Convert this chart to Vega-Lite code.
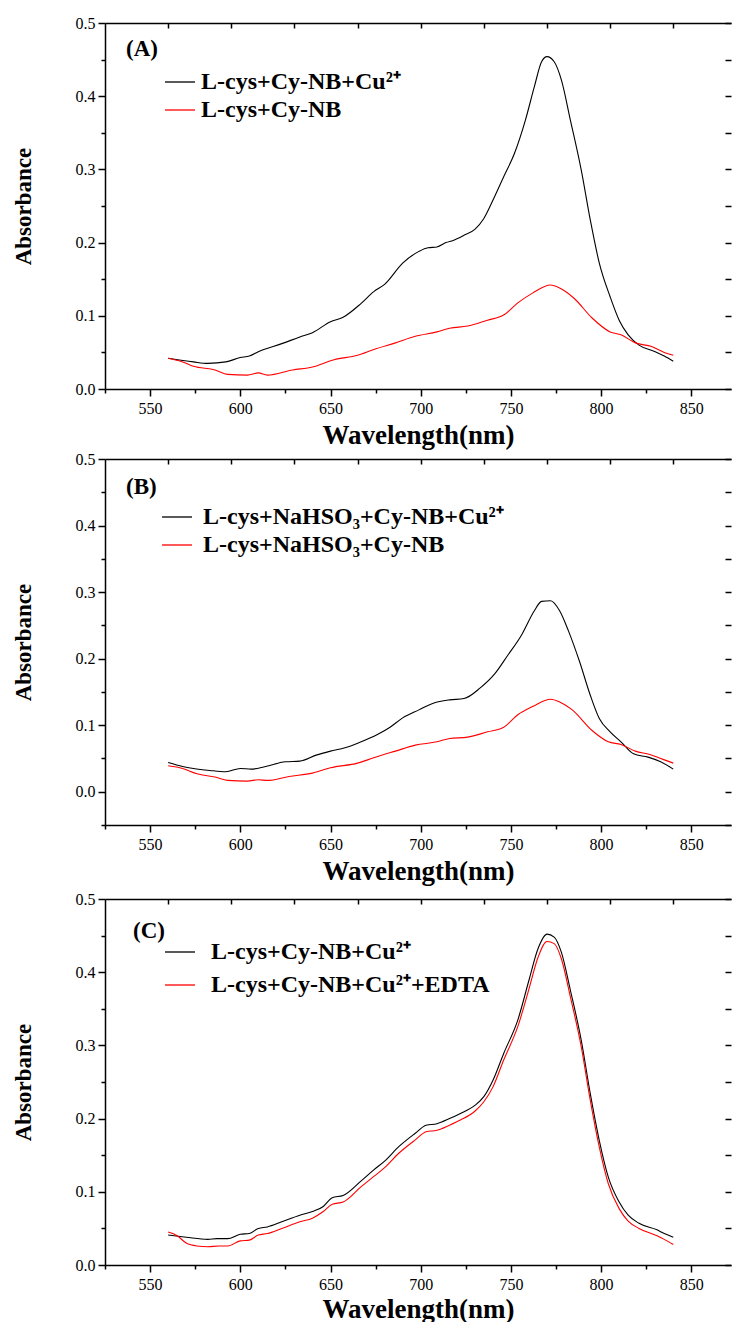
{
  "$schema": "https://vega.github.io/schema/vega-lite/v6.json",
  "background": "white",
  "padding": {"left": 12, "top": 15, "right": 0, "bottom": 0},
  "spacing": 70,
  "bounds": "flush",
  "resolve": {"scale": {"color": "independent"}, "legend": {"color": "independent"}},
  "config": {
    "view": {"stroke": null},
    "style": {"guide-label": {"font": "Liberation Serif"}, "guide-title": {"font": "Liberation Serif"}},
    "axis": {"grid": false, "domainColor": "black", "tickColor": "black", "labelColor": "black", "titleColor": "black", "domainWidth": 1.5, "tickWidth": 1.5, "labelFont": "Liberation Serif", "labelFontSize": 16, "titleFont": "Liberation Serif", "titleFontWeight": "bold"},
    "legend": {"orient": "none", "title": null, "symbolType": "stroke", "symbolSize": 900, "symbolStrokeWidth": 1.3, "labelFont": "Liberation Serif", "labelFontSize": 24, "labelFontWeight": "bold", "labelColor": "black", "labelLimit": 0},
    "title": {"font": "Liberation Serif", "fontSize": 23, "fontWeight": "bold", "color": "black", "anchor": "start", "frame": "group", "offset": 0, "baseline": "alphabetic"}
  },
  "datasets": {
    "A": [
      {"s":"L-cys+Cy-NB+Cu²⁺","x":560,"y":0.042},{"s":"L-cys+Cy-NB+Cu²⁺","x":574,"y":0.037},{"s":"L-cys+Cy-NB+Cu²⁺","x":582,"y":0.035},{"s":"L-cys+Cy-NB+Cu²⁺","x":592,"y":0.037},{"s":"L-cys+Cy-NB+Cu²⁺","x":600,"y":0.043},{"s":"L-cys+Cy-NB+Cu²⁺","x":605,"y":0.045},{"s":"L-cys+Cy-NB+Cu²⁺","x":610,"y":0.051},{"s":"L-cys+Cy-NB+Cu²⁺","x":623,"y":0.062},{"s":"L-cys+Cy-NB+Cu²⁺","x":633,"y":0.071},{"s":"L-cys+Cy-NB+Cu²⁺","x":640,"y":0.077},{"s":"L-cys+Cy-NB+Cu²⁺","x":650,"y":0.092},{"s":"L-cys+Cy-NB+Cu²⁺","x":657,"y":0.098},{"s":"L-cys+Cy-NB+Cu²⁺","x":667,"y":0.117},{"s":"L-cys+Cy-NB+Cu²⁺","x":674,"y":0.133},{"s":"L-cys+Cy-NB+Cu²⁺","x":680,"y":0.143},{"s":"L-cys+Cy-NB+Cu²⁺","x":690,"y":0.172},{"s":"L-cys+Cy-NB+Cu²⁺","x":699,"y":0.188},{"s":"L-cys+Cy-NB+Cu²⁺","x":704,"y":0.193},{"s":"L-cys+Cy-NB+Cu²⁺","x":709,"y":0.194},{"s":"L-cys+Cy-NB+Cu²⁺","x":714,"y":0.2},{"s":"L-cys+Cy-NB+Cu²⁺","x":718,"y":0.203},{"s":"L-cys+Cy-NB+Cu²⁺","x":724,"y":0.21},{"s":"L-cys+Cy-NB+Cu²⁺","x":730,"y":0.218},{"s":"L-cys+Cy-NB+Cu²⁺","x":735,"y":0.233},{"s":"L-cys+Cy-NB+Cu²⁺","x":741,"y":0.263},{"s":"L-cys+Cy-NB+Cu²⁺","x":746,"y":0.29},{"s":"L-cys+Cy-NB+Cu²⁺","x":752,"y":0.322},{"s":"L-cys+Cy-NB+Cu²⁺","x":758,"y":0.367},{"s":"L-cys+Cy-NB+Cu²⁺","x":763,"y":0.413},{"s":"L-cys+Cy-NB+Cu²⁺","x":767,"y":0.447},{"s":"L-cys+Cy-NB+Cu²⁺","x":770,"y":0.454},{"s":"L-cys+Cy-NB+Cu²⁺","x":774,"y":0.447},{"s":"L-cys+Cy-NB+Cu²⁺","x":778,"y":0.422},{"s":"L-cys+Cy-NB+Cu²⁺","x":783,"y":0.367},{"s":"L-cys+Cy-NB+Cu²⁺","x":789,"y":0.299},{"s":"L-cys+Cy-NB+Cu²⁺","x":794,"y":0.231},{"s":"L-cys+Cy-NB+Cu²⁺","x":799,"y":0.172},{"s":"L-cys+Cy-NB+Cu²⁺","x":805,"y":0.126},{"s":"L-cys+Cy-NB+Cu²⁺","x":810,"y":0.094},{"s":"L-cys+Cy-NB+Cu²⁺","x":815,"y":0.074},{"s":"L-cys+Cy-NB+Cu²⁺","x":821,"y":0.06},{"s":"L-cys+Cy-NB+Cu²⁺","x":830,"y":0.051},{"s":"L-cys+Cy-NB+Cu²⁺","x":835,"y":0.045},{"s":"L-cys+Cy-NB+Cu²⁺","x":840,"y":0.038},
      {"s":"L-cys+Cy-NB","x":560,"y":0.042},{"s":"L-cys+Cy-NB","x":568,"y":0.037},{"s":"L-cys+Cy-NB","x":574,"y":0.031},{"s":"L-cys+Cy-NB","x":586,"y":0.026},{"s":"L-cys+Cy-NB","x":593,"y":0.02},{"s":"L-cys+Cy-NB","x":604,"y":0.019},{"s":"L-cys+Cy-NB","x":610,"y":0.022},{"s":"L-cys+Cy-NB","x":615,"y":0.019},{"s":"L-cys+Cy-NB","x":629,"y":0.026},{"s":"L-cys+Cy-NB","x":640,"y":0.03},{"s":"L-cys+Cy-NB","x":652,"y":0.04},{"s":"L-cys+Cy-NB","x":665,"y":0.046},{"s":"L-cys+Cy-NB","x":674,"y":0.054},{"s":"L-cys+Cy-NB","x":686,"y":0.063},{"s":"L-cys+Cy-NB","x":697,"y":0.072},{"s":"L-cys+Cy-NB","x":709,"y":0.078},{"s":"L-cys+Cy-NB","x":716,"y":0.083},{"s":"L-cys+Cy-NB","x":726,"y":0.086},{"s":"L-cys+Cy-NB","x":737,"y":0.094},{"s":"L-cys+Cy-NB","x":746,"y":0.101},{"s":"L-cys+Cy-NB","x":754,"y":0.118},{"s":"L-cys+Cy-NB","x":762,"y":0.131},{"s":"L-cys+Cy-NB","x":772,"y":0.142},{"s":"L-cys+Cy-NB","x":777,"y":0.138},{"s":"L-cys+Cy-NB","x":785,"y":0.124},{"s":"L-cys+Cy-NB","x":795,"y":0.097},{"s":"L-cys+Cy-NB","x":805,"y":0.078},{"s":"L-cys+Cy-NB","x":811,"y":0.074},{"s":"L-cys+Cy-NB","x":819,"y":0.063},{"s":"L-cys+Cy-NB","x":828,"y":0.058},{"s":"L-cys+Cy-NB","x":835,"y":0.05},{"s":"L-cys+Cy-NB","x":840,"y":0.046}
    ],
    "B": [
      {"s":"L-cys+NaHSO₃+Cy-NB+Cu²⁺","x":560,"y":0.044},{"s":"L-cys+NaHSO₃+Cy-NB+Cu²⁺","x":568,"y":0.038},{"s":"L-cys+NaHSO₃+Cy-NB+Cu²⁺","x":574,"y":0.035},{"s":"L-cys+NaHSO₃+Cy-NB+Cu²⁺","x":583,"y":0.032},{"s":"L-cys+NaHSO₃+Cy-NB+Cu²⁺","x":592,"y":0.03},{"s":"L-cys+NaHSO₃+Cy-NB+Cu²⁺","x":600,"y":0.035},{"s":"L-cys+NaHSO₃+Cy-NB+Cu²⁺","x":606,"y":0.034},{"s":"L-cys+NaHSO₃+Cy-NB+Cu²⁺","x":614,"y":0.038},{"s":"L-cys+NaHSO₃+Cy-NB+Cu²⁺","x":625,"y":0.045},{"s":"L-cys+NaHSO₃+Cy-NB+Cu²⁺","x":633,"y":0.046},{"s":"L-cys+NaHSO₃+Cy-NB+Cu²⁺","x":642,"y":0.055},{"s":"L-cys+NaHSO₃+Cy-NB+Cu²⁺","x":650,"y":0.061},{"s":"L-cys+NaHSO₃+Cy-NB+Cu²⁺","x":658,"y":0.066},{"s":"L-cys+NaHSO₃+Cy-NB+Cu²⁺","x":666,"y":0.074},{"s":"L-cys+NaHSO₃+Cy-NB+Cu²⁺","x":676,"y":0.086},{"s":"L-cys+NaHSO₃+Cy-NB+Cu²⁺","x":683,"y":0.097},{"s":"L-cys+NaHSO₃+Cy-NB+Cu²⁺","x":690,"y":0.111},{"s":"L-cys+NaHSO₃+Cy-NB+Cu²⁺","x":699,"y":0.123},{"s":"L-cys+NaHSO₃+Cy-NB+Cu²⁺","x":707,"y":0.133},{"s":"L-cys+NaHSO₃+Cy-NB+Cu²⁺","x":716,"y":0.138},{"s":"L-cys+NaHSO₃+Cy-NB+Cu²⁺","x":724,"y":0.14},{"s":"L-cys+NaHSO₃+Cy-NB+Cu²⁺","x":733,"y":0.156},{"s":"L-cys+NaHSO₃+Cy-NB+Cu²⁺","x":741,"y":0.177},{"s":"L-cys+NaHSO₃+Cy-NB+Cu²⁺","x":748,"y":0.204},{"s":"L-cys+NaHSO₃+Cy-NB+Cu²⁺","x":756,"y":0.236},{"s":"L-cys+NaHSO₃+Cy-NB+Cu²⁺","x":763,"y":0.272},{"s":"L-cys+NaHSO₃+Cy-NB+Cu²⁺","x":767,"y":0.286},{"s":"L-cys+NaHSO₃+Cy-NB+Cu²⁺","x":772,"y":0.287},{"s":"L-cys+NaHSO₃+Cy-NB+Cu²⁺","x":777,"y":0.272},{"s":"L-cys+NaHSO₃+Cy-NB+Cu²⁺","x":782,"y":0.241},{"s":"L-cys+NaHSO₃+Cy-NB+Cu²⁺","x":788,"y":0.196},{"s":"L-cys+NaHSO₃+Cy-NB+Cu²⁺","x":794,"y":0.145},{"s":"L-cys+NaHSO₃+Cy-NB+Cu²⁺","x":799,"y":0.11},{"s":"L-cys+NaHSO₃+Cy-NB+Cu²⁺","x":805,"y":0.09},{"s":"L-cys+NaHSO₃+Cy-NB+Cu²⁺","x":811,"y":0.075},{"s":"L-cys+NaHSO₃+Cy-NB+Cu²⁺","x":818,"y":0.057},{"s":"L-cys+NaHSO₃+Cy-NB+Cu²⁺","x":826,"y":0.052},{"s":"L-cys+NaHSO₃+Cy-NB+Cu²⁺","x":833,"y":0.045},{"s":"L-cys+NaHSO₃+Cy-NB+Cu²⁺","x":840,"y":0.034},
      {"s":"L-cys+NaHSO₃+Cy-NB","x":560,"y":0.039},{"s":"L-cys+NaHSO₃+Cy-NB","x":568,"y":0.035},{"s":"L-cys+NaHSO₃+Cy-NB","x":576,"y":0.027},{"s":"L-cys+NaHSO₃+Cy-NB","x":586,"y":0.022},{"s":"L-cys+NaHSO₃+Cy-NB","x":593,"y":0.017},{"s":"L-cys+NaHSO₃+Cy-NB","x":604,"y":0.016},{"s":"L-cys+NaHSO₃+Cy-NB","x":610,"y":0.018},{"s":"L-cys+NaHSO₃+Cy-NB","x":615,"y":0.017},{"s":"L-cys+NaHSO₃+Cy-NB","x":627,"y":0.023},{"s":"L-cys+NaHSO₃+Cy-NB","x":640,"y":0.028},{"s":"L-cys+NaHSO₃+Cy-NB","x":650,"y":0.036},{"s":"L-cys+NaHSO₃+Cy-NB","x":665,"y":0.043},{"s":"L-cys+NaHSO₃+Cy-NB","x":674,"y":0.051},{"s":"L-cys+NaHSO₃+Cy-NB","x":686,"y":0.061},{"s":"L-cys+NaHSO₃+Cy-NB","x":697,"y":0.07},{"s":"L-cys+NaHSO₃+Cy-NB","x":709,"y":0.075},{"s":"L-cys+NaHSO₃+Cy-NB","x":716,"y":0.08},{"s":"L-cys+NaHSO₃+Cy-NB","x":726,"y":0.082},{"s":"L-cys+NaHSO₃+Cy-NB","x":737,"y":0.09},{"s":"L-cys+NaHSO₃+Cy-NB","x":746,"y":0.097},{"s":"L-cys+NaHSO₃+Cy-NB","x":754,"y":0.116},{"s":"L-cys+NaHSO₃+Cy-NB","x":762,"y":0.128},{"s":"L-cys+NaHSO₃+Cy-NB","x":772,"y":0.139},{"s":"L-cys+NaHSO₃+Cy-NB","x":777,"y":0.135},{"s":"L-cys+NaHSO₃+Cy-NB","x":784,"y":0.123},{"s":"L-cys+NaHSO₃+Cy-NB","x":795,"y":0.092},{"s":"L-cys+NaHSO₃+Cy-NB","x":804,"y":0.075},{"s":"L-cys+NaHSO₃+Cy-NB","x":811,"y":0.071},{"s":"L-cys+NaHSO₃+Cy-NB","x":819,"y":0.061},{"s":"L-cys+NaHSO₃+Cy-NB","x":827,"y":0.056},{"s":"L-cys+NaHSO₃+Cy-NB","x":834,"y":0.049},{"s":"L-cys+NaHSO₃+Cy-NB","x":840,"y":0.043}
    ],
    "C": [
      {"s":"L-cys+Cy-NB+Cu²⁺","x":560,"y":0.041},{"s":"L-cys+Cy-NB+Cu²⁺","x":570,"y":0.038},{"s":"L-cys+Cy-NB+Cu²⁺","x":582,"y":0.035},{"s":"L-cys+Cy-NB+Cu²⁺","x":587,"y":0.036},{"s":"L-cys+Cy-NB+Cu²⁺","x":593,"y":0.036},{"s":"L-cys+Cy-NB+Cu²⁺","x":600,"y":0.042},{"s":"L-cys+Cy-NB+Cu²⁺","x":605,"y":0.043},{"s":"L-cys+Cy-NB+Cu²⁺","x":610,"y":0.05},{"s":"L-cys+Cy-NB+Cu²⁺","x":615,"y":0.052},{"s":"L-cys+Cy-NB+Cu²⁺","x":623,"y":0.059},{"s":"L-cys+Cy-NB+Cu²⁺","x":633,"y":0.068},{"s":"L-cys+Cy-NB+Cu²⁺","x":640,"y":0.073},{"s":"L-cys+Cy-NB+Cu²⁺","x":646,"y":0.08},{"s":"L-cys+Cy-NB+Cu²⁺","x":651,"y":0.092},{"s":"L-cys+Cy-NB+Cu²⁺","x":657,"y":0.095},{"s":"L-cys+Cy-NB+Cu²⁺","x":667,"y":0.115},{"s":"L-cys+Cy-NB+Cu²⁺","x":674,"y":0.13},{"s":"L-cys+Cy-NB+Cu²⁺","x":680,"y":0.142},{"s":"L-cys+Cy-NB+Cu²⁺","x":688,"y":0.162},{"s":"L-cys+Cy-NB+Cu²⁺","x":697,"y":0.18},{"s":"L-cys+Cy-NB+Cu²⁺","x":703,"y":0.191},{"s":"L-cys+Cy-NB+Cu²⁺","x":709,"y":0.193},{"s":"L-cys+Cy-NB+Cu²⁺","x":716,"y":0.2},{"s":"L-cys+Cy-NB+Cu²⁺","x":722,"y":0.207},{"s":"L-cys+Cy-NB+Cu²⁺","x":730,"y":0.218},{"s":"L-cys+Cy-NB+Cu²⁺","x":735,"y":0.23},{"s":"L-cys+Cy-NB+Cu²⁺","x":740,"y":0.252},{"s":"L-cys+Cy-NB+Cu²⁺","x":746,"y":0.289},{"s":"L-cys+Cy-NB+Cu²⁺","x":754,"y":0.336},{"s":"L-cys+Cy-NB+Cu²⁺","x":760,"y":0.389},{"s":"L-cys+Cy-NB+Cu²⁺","x":765,"y":0.432},{"s":"L-cys+Cy-NB+Cu²⁺","x":770,"y":0.452},{"s":"L-cys+Cy-NB+Cu²⁺","x":774,"y":0.448},{"s":"L-cys+Cy-NB+Cu²⁺","x":778,"y":0.427},{"s":"L-cys+Cy-NB+Cu²⁺","x":783,"y":0.375},{"s":"L-cys+Cy-NB+Cu²⁺","x":789,"y":0.307},{"s":"L-cys+Cy-NB+Cu²⁺","x":794,"y":0.234},{"s":"L-cys+Cy-NB+Cu²⁺","x":799,"y":0.17},{"s":"L-cys+Cy-NB+Cu²⁺","x":804,"y":0.12},{"s":"L-cys+Cy-NB+Cu²⁺","x":810,"y":0.086},{"s":"L-cys+Cy-NB+Cu²⁺","x":815,"y":0.068},{"s":"L-cys+Cy-NB+Cu²⁺","x":821,"y":0.057},{"s":"L-cys+Cy-NB+Cu²⁺","x":831,"y":0.048},{"s":"L-cys+Cy-NB+Cu²⁺","x":835,"y":0.043},{"s":"L-cys+Cy-NB+Cu²⁺","x":840,"y":0.038},
      {"s":"L-cys+Cy-NB+Cu²⁺+EDTA","x":560,"y":0.045},{"s":"L-cys+Cy-NB+Cu²⁺+EDTA","x":565,"y":0.04},{"s":"L-cys+Cy-NB+Cu²⁺+EDTA","x":570,"y":0.03},{"s":"L-cys+Cy-NB+Cu²⁺+EDTA","x":576,"y":0.026},{"s":"L-cys+Cy-NB+Cu²⁺+EDTA","x":582,"y":0.025},{"s":"L-cys+Cy-NB+Cu²⁺+EDTA","x":588,"y":0.026},{"s":"L-cys+Cy-NB+Cu²⁺+EDTA","x":593,"y":0.026},{"s":"L-cys+Cy-NB+Cu²⁺+EDTA","x":600,"y":0.033},{"s":"L-cys+Cy-NB+Cu²⁺+EDTA","x":605,"y":0.034},{"s":"L-cys+Cy-NB+Cu²⁺+EDTA","x":610,"y":0.041},{"s":"L-cys+Cy-NB+Cu²⁺+EDTA","x":615,"y":0.043},{"s":"L-cys+Cy-NB+Cu²⁺+EDTA","x":623,"y":0.05},{"s":"L-cys+Cy-NB+Cu²⁺+EDTA","x":633,"y":0.059},{"s":"L-cys+Cy-NB+Cu²⁺+EDTA","x":640,"y":0.064},{"s":"L-cys+Cy-NB+Cu²⁺+EDTA","x":646,"y":0.073},{"s":"L-cys+Cy-NB+Cu²⁺+EDTA","x":651,"y":0.083},{"s":"L-cys+Cy-NB+Cu²⁺+EDTA","x":657,"y":0.086},{"s":"L-cys+Cy-NB+Cu²⁺+EDTA","x":667,"y":0.107},{"s":"L-cys+Cy-NB+Cu²⁺+EDTA","x":674,"y":0.121},{"s":"L-cys+Cy-NB+Cu²⁺+EDTA","x":680,"y":0.133},{"s":"L-cys+Cy-NB+Cu²⁺+EDTA","x":688,"y":0.153},{"s":"L-cys+Cy-NB+Cu²⁺+EDTA","x":697,"y":0.171},{"s":"L-cys+Cy-NB+Cu²⁺+EDTA","x":703,"y":0.182},{"s":"L-cys+Cy-NB+Cu²⁺+EDTA","x":709,"y":0.184},{"s":"L-cys+Cy-NB+Cu²⁺+EDTA","x":716,"y":0.191},{"s":"L-cys+Cy-NB+Cu²⁺+EDTA","x":722,"y":0.198},{"s":"L-cys+Cy-NB+Cu²⁺+EDTA","x":730,"y":0.21},{"s":"L-cys+Cy-NB+Cu²⁺+EDTA","x":735,"y":0.223},{"s":"L-cys+Cy-NB+Cu²⁺+EDTA","x":740,"y":0.243},{"s":"L-cys+Cy-NB+Cu²⁺+EDTA","x":746,"y":0.28},{"s":"L-cys+Cy-NB+Cu²⁺+EDTA","x":754,"y":0.327},{"s":"L-cys+Cy-NB+Cu²⁺+EDTA","x":760,"y":0.377},{"s":"L-cys+Cy-NB+Cu²⁺+EDTA","x":765,"y":0.42},{"s":"L-cys+Cy-NB+Cu²⁺+EDTA","x":770,"y":0.442},{"s":"L-cys+Cy-NB+Cu²⁺+EDTA","x":774,"y":0.439},{"s":"L-cys+Cy-NB+Cu²⁺+EDTA","x":778,"y":0.418},{"s":"L-cys+Cy-NB+Cu²⁺+EDTA","x":783,"y":0.366},{"s":"L-cys+Cy-NB+Cu²⁺+EDTA","x":789,"y":0.298},{"s":"L-cys+Cy-NB+Cu²⁺+EDTA","x":794,"y":0.225},{"s":"L-cys+Cy-NB+Cu²⁺+EDTA","x":799,"y":0.161},{"s":"L-cys+Cy-NB+Cu²⁺+EDTA","x":804,"y":0.111},{"s":"L-cys+Cy-NB+Cu²⁺+EDTA","x":810,"y":0.077},{"s":"L-cys+Cy-NB+Cu²⁺+EDTA","x":815,"y":0.06},{"s":"L-cys+Cy-NB+Cu²⁺+EDTA","x":821,"y":0.05},{"s":"L-cys+Cy-NB+Cu²⁺+EDTA","x":831,"y":0.04},{"s":"L-cys+Cy-NB+Cu²⁺+EDTA","x":835,"y":0.035},{"s":"L-cys+Cy-NB+Cu²⁺+EDTA","x":840,"y":0.028}
    ]
  },
  "vconcat": [
    {
      "width": 626, "height": 366,
      "data": {"name": "A"},
      "title": {"text": "(A)", "dx": 21, "dy": 50},
      "layer": [
        {"mark": {"type": "line", "strokeWidth": 1.1, "interpolate": "monotone"},
         "encoding": {
           "x": {"field": "x", "type": "quantitative", "scale": {"domain": [525, 872], "nice": false, "zero": false},
                 "axis": {"orient": "bottom", "values": [550,600,650,700,750,800,850], "tickSize": 7, "labelPadding": 4, "labelFont": "Liberation Serif", "labelFontSize": 16, "title": "Wavelength(nm)", "titleFont": "Liberation Serif", "titleFontSize": 27, "titlePadding": 6}},
           "y": {"field": "y", "type": "quantitative", "scale": {"domain": [0, 0.5], "nice": false, "zero": false},
                 "axis": {"orient": "left", "values": [0,0.1,0.2,0.3,0.4,0.5], "format": ".1f", "tickSize": 7, "labelPadding": 3, "labelFont": "Liberation Serif", "labelFontSize": 16, "title": "Absorbance", "titleFont": "Liberation Serif", "titleFontSize": 23, "titlePadding": 40}},
           "color": {"field": "s", "type": "nominal", "sort": null, "scale": {"domain": ["L-cys+Cy-NB+Cu²⁺", "L-cys+Cy-NB"], "range": ["#000000", "#ff0000"]},
                     "legend": {"legendX": 59, "legendY": 43, "labelOffset": 5, "rowPadding": -5}}
         }},
        {"mark": {"type": "line", "strokeOpacity": 0},
         "encoding": {
           "x": {"field": "x", "type": "quantitative", "scale": {"domain": [525, 872], "nice": false, "zero": false},
                 "axis": {"orient": "bottom", "values": [525,575,625,675,725,775,825], "tickSize": 4, "labels": false, "title": null, "domain": false}},
           "y": {"field": "y", "type": "quantitative", "scale": {"domain": [0, 0.5], "nice": false, "zero": false},
                 "axis": {"orient": "left", "values": [0.05,0.15,0.25,0.35,0.45], "tickSize": 4, "labels": false, "title": null, "domain": false}},
           "detail": {"field": "s"}
         }},
        {"mark": {"type": "line", "strokeOpacity": 0},
         "encoding": {
           "x": {"field": "x", "type": "quantitative", "scale": {"domain": [525, 872], "nice": false, "zero": false},
                 "axis": {"orient": "top", "values": [560,595,630,665,700,735,770,805,840], "tickSize": -5, "labels": false, "title": null}},
           "y": {"field": "y", "type": "quantitative", "scale": {"domain": [0, 0.5], "nice": false, "zero": false},
                 "axis": {"orient": "right", "values": [0,0.05,0.1,0.15,0.2,0.25,0.3,0.35,0.4,0.45,0.5], "tickSize": -6, "labels": false, "title": null, "domain": false}},
           "detail": {"field": "s"}
         }}
      ],
      "resolve": {"axis": {"x": "independent", "y": "independent"}}
    },
    {
      "spacing": 74,
      "bounds": "flush",
      "resolve": {"scale": {"color": "independent"}, "legend": {"color": "independent"}},
      "vconcat": [
        {
          "width": 626, "height": 366,
          "data": {"name": "B"},
          "title": {"text": "(B)", "dx": 21, "dy": 52},
          "layer": [
            {"mark": {"type": "line", "strokeWidth": 1.1, "interpolate": "monotone"},
             "encoding": {
               "x": {"field": "x", "type": "quantitative", "scale": {"domain": [525, 872], "nice": false, "zero": false},
                     "axis": {"orient": "bottom", "values": [550,600,650,700,750,800,850], "tickSize": 7, "labelPadding": 4, "labelFont": "Liberation Serif", "labelFontSize": 16, "title": "Wavelength(nm)", "titleFont": "Liberation Serif", "titleFontSize": 27, "titlePadding": 6}},
               "y": {"field": "y", "type": "quantitative", "scale": {"domain": [-0.05, 0.5], "nice": false, "zero": false},
                     "axis": {"orient": "left", "values": [0,0.1,0.2,0.3,0.4,0.5], "format": ".1f", "tickSize": 7, "labelPadding": 3, "labelFont": "Liberation Serif", "labelFontSize": 16, "title": "Absorbance", "titleFont": "Liberation Serif", "titleFontSize": 23, "titlePadding": 40}},
               "color": {"field": "s", "type": "nominal", "sort": null, "scale": {"domain": ["L-cys+NaHSO₃+Cy-NB+Cu²⁺", "L-cys+NaHSO₃+Cy-NB"], "range": ["#000000", "#ff0000"]},
                         "legend": {"legendX": 56, "legendY": 42, "labelOffset": 10, "rowPadding": -7}}
             }},
            {"mark": {"type": "line", "strokeOpacity": 0},
             "encoding": {
               "x": {"field": "x", "type": "quantitative", "scale": {"domain": [525, 872], "nice": false, "zero": false},
                     "axis": {"orient": "bottom", "values": [525,575,625,675,725,775,825], "tickSize": 4, "labels": false, "title": null, "domain": false}},
               "y": {"field": "y", "type": "quantitative", "scale": {"domain": [-0.05, 0.5], "nice": false, "zero": false},
                     "axis": {"orient": "left", "values": [-0.05,0.05,0.15,0.25,0.35,0.45], "tickSize": 4, "labels": false, "title": null, "domain": false}},
               "detail": {"field": "s"}
             }},
            {"mark": {"type": "line", "strokeOpacity": 0},
             "encoding": {
               "x": {"field": "x", "type": "quantitative", "scale": {"domain": [525, 872], "nice": false, "zero": false},
                     "axis": {"orient": "top", "values": [560,595,630,665,700,735,770,805,840], "tickSize": -5, "labels": false, "title": null}},
               "y": {"field": "y", "type": "quantitative", "scale": {"domain": [-0.05, 0.5], "nice": false, "zero": false},
                     "axis": {"orient": "right", "values": [-0.05,0,0.05,0.1,0.15,0.2,0.25,0.3,0.35,0.4,0.45,0.5], "tickSize": -6, "labels": false, "title": null, "domain": false}},
               "detail": {"field": "s"}
             }}
          ],
          "resolve": {"axis": {"x": "independent", "y": "independent"}}
        },
        {
          "width": 626, "height": 366,
          "data": {"name": "C"},
          "title": {"text": "(C)", "dx": 28, "dy": 56},
          "layer": [
            {"mark": {"type": "line", "strokeWidth": 1.1, "interpolate": "monotone"},
             "encoding": {
               "x": {"field": "x", "type": "quantitative", "scale": {"domain": [525, 872], "nice": false, "zero": false},
                     "axis": {"orient": "bottom", "values": [550,600,650,700,750,800,850], "tickSize": 7, "labelPadding": 4, "labelFont": "Liberation Serif", "labelFontSize": 16, "title": "Wavelength(nm)", "titleFont": "Liberation Serif", "titleFontSize": 27, "titlePadding": 4}},
               "y": {"field": "y", "type": "quantitative", "scale": {"domain": [0, 0.5], "nice": false, "zero": false},
                     "axis": {"orient": "left", "values": [0,0.1,0.2,0.3,0.4,0.5], "format": ".1f", "tickSize": 7, "labelPadding": 3, "labelFont": "Liberation Serif", "labelFontSize": 16, "title": "Absorbance", "titleFont": "Liberation Serif", "titleFontSize": 23, "titlePadding": 40}},
               "color": {"field": "s", "type": "nominal", "sort": null, "scale": {"domain": ["L-cys+Cy-NB+Cu²⁺", "L-cys+Cy-NB+Cu²⁺+EDTA"], "range": ["#000000", "#ff0000"]},
                         "legend": {"legendX": 59, "legendY": 37, "labelOffset": 15, "rowPadding": 5}}
             }},
            {"mark": {"type": "line", "strokeOpacity": 0},
             "encoding": {
               "x": {"field": "x", "type": "quantitative", "scale": {"domain": [525, 872], "nice": false, "zero": false},
                     "axis": {"orient": "bottom", "values": [525,575,625,675,725,775,825], "tickSize": 4, "labels": false, "title": null, "domain": false}},
               "y": {"field": "y", "type": "quantitative", "scale": {"domain": [0, 0.5], "nice": false, "zero": false},
                     "axis": {"orient": "left", "values": [0.05,0.15,0.25,0.35,0.45], "tickSize": 4, "labels": false, "title": null, "domain": false}},
               "detail": {"field": "s"}
             }},
            {"mark": {"type": "line", "strokeOpacity": 0},
             "encoding": {
               "x": {"field": "x", "type": "quantitative", "scale": {"domain": [525, 872], "nice": false, "zero": false},
                     "axis": {"orient": "top", "values": [560,595,630,665,700,735,770,805,840], "tickSize": -5, "labels": false, "title": null}},
               "y": {"field": "y", "type": "quantitative", "scale": {"domain": [0, 0.5], "nice": false, "zero": false},
                     "axis": {"orient": "right", "values": [0,0.05,0.1,0.15,0.2,0.25,0.3,0.35,0.4,0.45,0.5], "tickSize": -6, "labels": false, "title": null, "domain": false}},
               "detail": {"field": "s"}
             }}
          ],
          "resolve": {"axis": {"x": "independent", "y": "independent"}}
        }
      ]
    }
  ]
}
